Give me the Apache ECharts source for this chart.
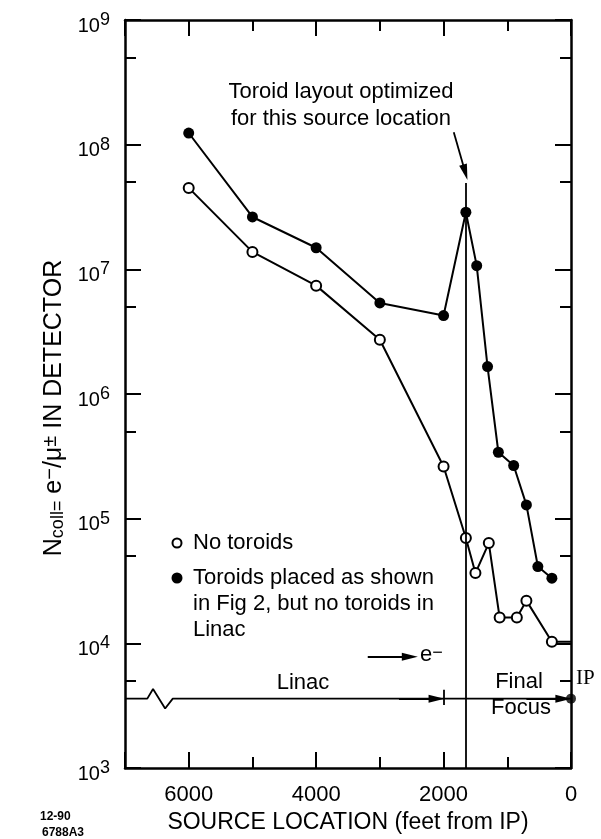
<!DOCTYPE html>
<html><head><meta charset="utf-8">
<script src="https://cdn.jsdelivr.net/npm/echarts@6/dist/echarts.min.js"></script>
<style>html,body{margin:0;padding:0;background:#fff}#c{width:601px;height:839px}</style>
</head><body><div id="c"></div>
<script>
// ---- data ----
const xTickValues = [0, 2000, 4000, 6000];
const yMinorTicks = [5e3, 5e4, 5e5, 5e6, 5e7, 5e8];
const noToroidX = [6000, 5000, 4000, 3000, 2000, 1650, 1500, 1290, 1120, 850, 700, 300];
const noToroidY = [4.5e7, 1.38e7, 7.4e6, 2.72e6, 2.62e5, 7.0e4, 3.66e4, 6.37e4, 1.61e4, 1.61e4, 2.2e4, 1.03e4];
const noToroidTail = [0, 1.03e4];
const toroidX = [6000, 5000, 4000, 3000, 2000, 1650, 1480, 1310, 1140, 900, 700, 520, 300];
const toroidY = [1.24e8, 2.63e7, 1.49e7, 5.38e6, 4.26e6, 2.87e7, 1.07e7, 1.66e6, 3.41e5, 2.67e5, 1.29e5, 4.13e4, 3.33e4];
const linacX = [7000, 6650, 6560, 6370, 6250, 0];
const linacY = [3.6e3, 3.6e3, 4.3e3, 3.0e3, 3.6e3, 3.6e3];
const ipPoint = [0, 3.6e3];
const optimizedX = 1650;

const F = '"Liberation Sans", Arial, Helvetica, sans-serif';
const SERIF = '"Liberation Serif", "Times New Roman", serif';
const K = '#000';
const pair = (xs, ys) => xs.map((x, i) => [x, ys[i]]);

const chart = echarts.init(document.getElementById('c'));

const gridBox = { left: 125, right: 30, top: 20, bottom: 71 };
const xBase = {
  type: 'value', min: 0, max: 7000, interval: 2000, inverse: true,
  axisLine: { onZero: false, lineStyle: { color: K, width: 2.5 } },
  axisTick: { inside: true, length: 16, lineStyle: { color: K, width: 2 } },
  minorTick: { show: true, splitNumber: 2, length: 11, lineStyle: { color: K, width: 2 } },
  splitLine: { show: false }, minorSplitLine: { show: false }
};
const yBase = {
  type: 'log', logBase: 10, min: 1e3, max: 1e9,
  axisLine: { onZero: false, lineStyle: { color: K, width: 2.5 } },
  axisTick: { inside: true, length: 16, lineStyle: { color: K, width: 2 } },
  splitLine: { show: false }, minorTick: { show: false }, minorSplitLine: { show: false }
};
const yMinor = Object.assign({}, yBase, {
  gridIndex: 1,
  axisLine: { show: false },
  axisTick: { inside: true, length: 11, customValues: yMinorTicks, lineStyle: { color: K, width: 2 } },
  axisLabel: { show: false }
});

const option = {
  animation: false,
  backgroundColor: '#fff',
  grid: [Object.assign({}, gridBox), Object.assign({}, gridBox)],
  xAxis: [
    Object.assign({}, xBase, {
      position: 'bottom',
      axisLabel: { fontFamily: F, fontSize: 22, color: K, margin: 16, showMaxLabel: false,
        formatter: v => xTickValues.indexOf(v) >= 0 ? String(v) : '' },
      name: 'SOURCE LOCATION (feet from IP)', nameLocation: 'middle', nameGap: 43,
      nameTextStyle: { fontFamily: F, fontSize: 23, color: K }
    }),
    Object.assign({}, xBase, { position: 'top', axisLabel: { show: false } }),
    { type: 'value', gridIndex: 1, min: 0, max: 7000, show: false }
  ],
  yAxis: [
    Object.assign({}, yBase, {
      position: 'left',
      axisLabel: {
        margin: 15,
        formatter: v => '{b|10}{s|' + Math.round(Math.log10(v)) + '}',
        rich: {
          b: { fontFamily: F, fontSize: 20, color: K, lineHeight: 20, verticalAlign: 'bottom' },
          s: { fontFamily: F, fontSize: 18, color: K, lineHeight: 32, verticalAlign: 'middle' }
        }
      },
      name: '{b|N}{sub|coll=}{b| e}{sup|−}{b|/μ}{sup|±}{b| IN DETECTOR}',
      nameLocation: 'middle', nameRotate: 90, nameGap: 54,
      nameTextStyle: {
        fontFamily: F, fontSize: 25, color: K, padding: [0, 28, 0, 0],
        rich: {
          b: { fontFamily: F, fontSize: 25, color: K, lineHeight: 26, verticalAlign: 'middle' },
          sub: { fontFamily: F, fontSize: 18, color: K, lineHeight: 17, verticalAlign: 'bottom' },
          sup: { fontFamily: F, fontSize: 20, color: K, lineHeight: 13, verticalAlign: 'top' }
        }
      }
    }),
    Object.assign({}, yBase, { position: 'right', axisLabel: { show: false } }),
    Object.assign({}, yMinor, { position: 'left' }),
    Object.assign({}, yMinor, { position: 'right' })
  ],
  series: [
    {
      name: 'No toroids', type: 'line', clip: false, z: 4,
      data: pair(noToroidX, noToroidY).concat([{ value: noToroidTail, symbol: 'none' }]),
      symbol: 'circle', symbolSize: 10, showAllSymbol: true,
      lineStyle: { color: K, width: 2 },
      itemStyle: { color: '#fff', borderColor: K, borderWidth: 2 }
    },
    {
      name: 'Toroids', type: 'line', clip: false, z: 5,
      data: pair(toroidX, toroidY),
      symbol: 'circle', symbolSize: 11, showAllSymbol: true,
      lineStyle: { color: K, width: 2 },
      itemStyle: { color: K, borderWidth: 0 }
    },
    {
      name: 'Linac', type: 'line', clip: false, z: 3,
      data: pair(linacX, linacY), symbol: 'none',
      lineStyle: { color: K, width: 1.8 },
      markLine: {
        silent: true, animation: false, label: { show: false },
        lineStyle: { color: K, width: 1.8, type: 'solid' },
        emphasis: { disabled: true },
        symbolSize: [8, 16],
        data: [
          [{ coord: [optimizedX, 4.93e7], symbol: 'none' }, { coord: [optimizedX, 1e3], symbol: 'none' }],
          [{ coord: [1840, 1.26e8], symbol: 'none' }, { coord: [1660, 6.0e7], symbol: 'triangle' }],
          [{ coord: [2700, 3.6e3], symbol: 'none' }, { coord: [2110, 3.6e3], symbol: 'triangle' }],
          [{ coord: [2000, 3.2e3], symbol: 'none' }, { coord: [2000, 4.25e3], symbol: 'none' }],
          [{ coord: [700, 3.6e3], symbol: 'none' }, { coord: [120, 3.6e3], symbol: 'triangle' }],
          [{ coord: [3190, 7.8e3], symbol: 'none' }, { coord: [2530, 7.8e3], symbol: 'triangle' }],
          [{ coord: [135, 5.0e3], symbol: 'none' }, { coord: [35, 5.0e3], symbol: 'none' }]
        ]
      }
    },
    {
      name: 'IP', type: 'scatter', clip: false, z: 6,
      data: [ipPoint], symbol: 'circle', symbolSize: 10, itemStyle: { color: K }
    }
  ],
  graphic: [
    { type: 'text', x: 341, y: 92, z: 10, style: { text: 'Toroid layout optimized', fontFamily: F, fontSize: 22, fill: K, align: 'center', verticalAlign: 'middle' } },
    { type: 'text', x: 341, y: 119, z: 10, style: { text: 'for this source location', fontFamily: F, fontSize: 22, fill: K, align: 'center', verticalAlign: 'middle' } },
    { type: 'circle', z: 10, shape: { cx: 177, cy: 543, r: 4.5 }, style: { fill: '#fff', stroke: K, lineWidth: 2 } },
    { type: 'text', x: 193, y: 543, z: 10, style: { text: 'No toroids', fontFamily: F, fontSize: 22, fill: K, align: 'left', verticalAlign: 'middle' } },
    { type: 'circle', z: 10, shape: { cx: 177, cy: 578, r: 5.5 }, style: { fill: K } },
    { type: 'text', x: 193, y: 565, z: 10, style: { text: 'Toroids placed as shown\nin Fig 2, but no toroids in\nLinac', fontFamily: F, fontSize: 22, lineHeight: 26, fill: K, align: 'left', verticalAlign: 'top' } },
    { type: 'text', x: 303, y: 683, z: 10, style: { text: 'Linac', fontFamily: F, fontSize: 22, fill: K, align: 'center', verticalAlign: 'middle' } },
    { type: 'text', x: 519, y: 682, z: 10, style: { text: 'Final', fontFamily: F, fontSize: 22, fill: K, align: 'center', verticalAlign: 'middle' } },
    { type: 'text', x: 521, y: 708, z: 10, style: { text: 'Focus', fontFamily: F, fontSize: 22, fill: K, align: 'center', verticalAlign: 'middle' } },
    { type: 'text', x: 420, y: 655, z: 10, style: { text: '{b|e}{s|−}', fill: K, align: 'left', verticalAlign: 'middle',
        rich: { b: { fontFamily: F, fontSize: 22, fill: K, lineHeight: 22, verticalAlign: 'bottom' }, s: { fontFamily: F, fontSize: 18, fill: K, lineHeight: 14, verticalAlign: 'top' } } } },
    { type: 'text', x: 576, y: 678, z: 10, style: { text: 'IP', fontFamily: SERIF, fontSize: 21, fill: K, align: 'left', verticalAlign: 'middle' } },
    { type: 'text', x: 40, y: 817, z: 10, style: { text: '12-90', fontFamily: F, fontSize: 12, fontWeight: 'bold', fill: K, align: 'left', verticalAlign: 'middle' } },
    { type: 'text', x: 42, y: 833, z: 10, style: { text: '6788A3', fontFamily: F, fontSize: 12, fontWeight: 'bold', fill: K, align: 'left', verticalAlign: 'middle' } }
  ]
};
chart.setOption(option);
</script></body></html>
